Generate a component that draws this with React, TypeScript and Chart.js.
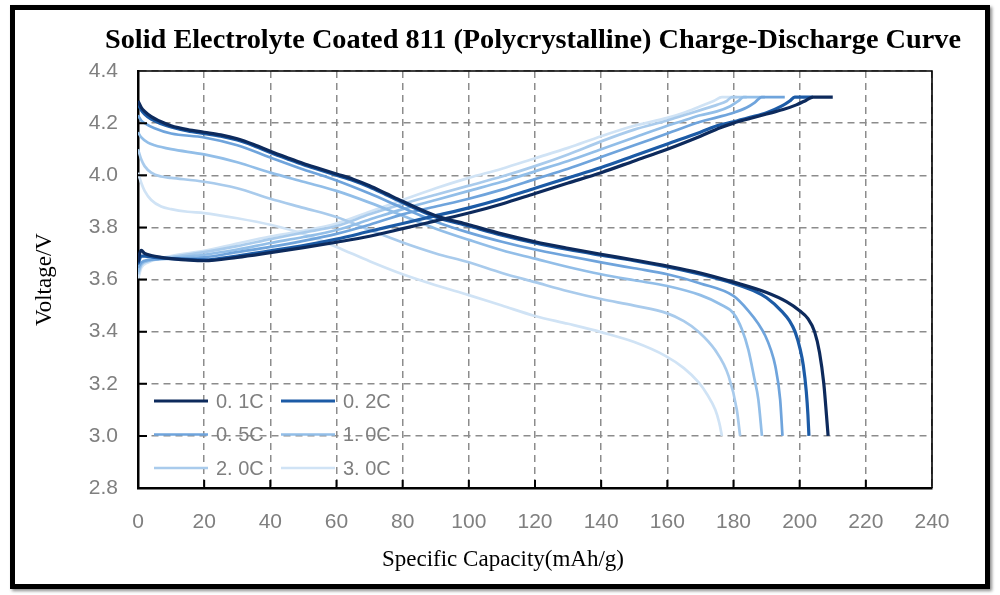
import { useEffect, useRef } from "react";
import { Chart, registerables, type ChartConfiguration, type Plugin } from "chart.js";

Chart.register(...registerables);

type Pt = [number, number];

const chartTitle = "Solid Electrolyte Coated 811 (Polycrystalline) Charge-Discharge Curve";
const xAxisTitle = "Specific Capacity(mAh/g)";
const yAxisTitle = "Voltage/V";

const rateLabels = ["0. 1C", "0. 2C", "0. 5C", "1. 0C", "2. 0C", "3. 0C"];
const rateColors = ["#0d2a5c", "#1c5ba6", "#6fa4dc", "#92bee8", "#a9cbec", "#d0e3f5"];
const rateWidths = [3.2, 3.2, 2.7, 2.7, 2.7, 2.7];

const capacityTicks = [0, 20, 40, 60, 80, 100, 120, 140, 160, 180, 200, 220, 240];
const voltageTicks = [2.8, 3.0, 3.2, 3.4, 3.6, 3.8, 4.0, 4.2, 4.4];

// discharge: [capacity mAh/g, voltage V]
const discharge01: Pt[] = [
  [0, 4.285], [1, 4.26], [2, 4.245], [4, 4.225], [7, 4.205], [10, 4.19], [15, 4.175], [20, 4.165],
  [25, 4.155], [30, 4.14], [35, 4.118], [40, 4.092], [45, 4.068], [50, 4.045], [55, 4.025],
  [60, 4.005], [65, 3.985], [70, 3.96], [75, 3.93], [80, 3.9], [90, 3.845], [100, 3.81], [110, 3.775],
  [120, 3.745], [130, 3.72], [140, 3.697], [150, 3.675], [160, 3.652], [170, 3.625], [180, 3.59],
  [190, 3.55], [196, 3.515], [200, 3.48], [202.5, 3.45], [204.5, 3.4], [206, 3.32], [207.3, 3.2],
  [208.1, 3.08], [208.6, 3.0]
];
const discharge02: Pt[] = [
  [0, 4.275], [1, 4.25], [2, 4.235], [4, 4.215], [7, 4.198], [10, 4.185], [15, 4.17], [20, 4.16],
  [25, 4.15], [30, 4.135], [35, 4.113], [40, 4.087], [45, 4.063], [50, 4.04], [55, 4.02], [60, 4.0],
  [65, 3.98], [70, 3.955], [75, 3.925], [80, 3.895], [90, 3.84], [100, 3.805], [110, 3.77],
  [120, 3.74], [130, 3.715], [140, 3.693], [150, 3.672], [160, 3.648], [170, 3.62], [180, 3.585],
  [186, 3.558], [190, 3.53], [194.6, 3.478], [197, 3.44], [198.6, 3.4], [200.2, 3.33], [201.1, 3.27],
  [202, 3.17], [202.5, 3.08], [202.8, 3.0]
];
const discharge05: Pt[] = [
  [0, 4.23], [1, 4.21], [2, 4.2], [5, 4.18], [10, 4.16], [20, 4.145], [30, 4.115], [40, 4.068],
  [50, 4.022], [60, 3.98], [70, 3.93], [80, 3.875], [90, 3.822], [100, 3.78], [110, 3.745],
  [120, 3.715], [130, 3.69], [140, 3.666], [150, 3.643], [160, 3.62], [170, 3.585], [180, 3.537],
  [184.5, 3.48], [187.5, 3.43], [189.6, 3.384], [191.3, 3.33], [192.6, 3.27], [194.1, 3.14],
  [194.8, 3.0]
];
const discharge10: Pt[] = [
  [0, 4.165], [1, 4.145], [3, 4.125], [5, 4.115], [10, 4.1], [20, 4.08], [30, 4.05], [40, 4.01],
  [50, 3.975], [60, 3.94], [70, 3.895], [80, 3.845], [90, 3.795], [100, 3.752], [110, 3.712],
  [120, 3.68], [130, 3.648], [140, 3.62], [150, 3.597], [160, 3.575], [170, 3.54], [176, 3.505],
  [180, 3.47], [182.5, 3.41], [184.5, 3.33], [186.3, 3.22], [187.5, 3.14], [188.6, 3.0]
];
const discharge20: Pt[] = [
  [0, 4.1], [1, 4.06], [2, 4.035], [4, 4.01], [7, 3.995], [10, 3.99], [20, 3.975], [30, 3.95],
  [40, 3.91], [50, 3.875], [60, 3.84], [70, 3.79], [80, 3.742], [90, 3.7], [100, 3.666], [110, 3.625],
  [120, 3.59], [130, 3.555], [140, 3.525], [150, 3.5], [160, 3.47], [165, 3.44], [169.4, 3.4],
  [174.4, 3.33], [178.5, 3.23], [181, 3.1], [182, 3.0]
];
const discharge30: Pt[] = [
  [0, 4.01], [1, 3.97], [2, 3.94], [4, 3.905], [7, 3.88], [10, 3.87], [15, 3.86], [20, 3.855],
  [30, 3.835], [40, 3.81], [50, 3.775], [60, 3.725], [70, 3.67], [80, 3.62], [90, 3.578], [100, 3.54],
  [110, 3.5], [120, 3.46], [130, 3.43], [140, 3.398], [150, 3.36], [159.4, 3.307], [165, 3.26],
  [169.4, 3.206], [172, 3.16], [174.5, 3.1], [175.7, 3.05], [176.5, 3.0]
];

// charge: [capacity mAh/g, voltage V]
const charge01: Pt[] = [
  [0, 3.665], [0.5, 3.7], [1, 3.712], [2, 3.7], [4, 3.692], [7, 3.685], [10, 3.68], [20, 3.672],
  [30, 3.685], [40, 3.703], [50, 3.722], [60, 3.743], [70, 3.766], [80, 3.795], [90, 3.825],
  [100, 3.855], [110, 3.89], [120, 3.93], [130, 3.97], [140, 4.01], [150, 4.055], [160, 4.1],
  [170, 4.15], [176, 4.182], [180, 4.2], [185, 4.218], [190, 4.235], [195, 4.252], [199, 4.27],
  [202, 4.288], [204, 4.3], [210, 4.3]
];
const charge02: Pt[] = [
  [0, 3.66], [1, 3.69], [2, 3.69], [5, 3.685], [10, 3.68], [20, 3.675], [30, 3.69], [40, 3.71],
  [50, 3.73], [60, 3.755], [70, 3.785], [80, 3.815], [90, 3.845], [100, 3.875], [110, 3.91],
  [120, 3.95], [130, 3.99], [140, 4.03], [150, 4.075], [160, 4.12], [170, 4.165], [175, 4.19],
  [180, 4.205], [185, 4.222], [190, 4.24], [194.5, 4.265], [197, 4.285], [198.5, 4.3], [204, 4.3]
];
const charge05: Pt[] = [
  [0, 3.645], [1, 3.665], [3, 3.675], [10, 3.68], [20, 3.685], [30, 3.705], [40, 3.725], [50, 3.748],
  [60, 3.775], [70, 3.81], [80, 3.85], [90, 3.88], [100, 3.91], [110, 3.945], [120, 3.985],
  [130, 4.025], [140, 4.07], [150, 4.115], [160, 4.16], [170, 4.205], [175, 4.222], [180, 4.24],
  [184, 4.26], [186.5, 4.28], [188.5, 4.3], [195.5, 4.3]
];
const charge10: Pt[] = [
  [0, 3.63], [1, 3.66], [3, 3.672], [10, 3.683], [20, 3.695], [30, 3.715], [40, 3.74], [50, 3.763],
  [60, 3.79], [70, 3.83], [80, 3.87], [90, 3.905], [100, 3.94], [110, 3.975], [120, 4.015],
  [130, 4.055], [140, 4.1], [150, 4.145], [160, 4.19], [165, 4.21], [170, 4.23], [175, 4.245],
  [179, 4.265], [181.5, 4.285], [183, 4.3], [189.5, 4.3]
];
const charge20: Pt[] = [
  [0, 3.62], [1, 3.655], [3, 3.67], [10, 3.686], [20, 3.705], [30, 3.728], [40, 3.755], [50, 3.78],
  [60, 3.805], [70, 3.85], [80, 3.89], [90, 3.925], [100, 3.96], [110, 3.995], [120, 4.035],
  [130, 4.08], [140, 4.13], [150, 4.175], [160, 4.21], [165, 4.23], [170, 4.25], [175, 4.27],
  [178, 4.285], [179.5, 4.3], [184, 4.3]
];
const charge30: Pt[] = [
  [0, 3.6], [1, 3.645], [3, 3.665], [10, 3.69], [20, 3.71], [30, 3.738], [40, 3.765], [50, 3.787],
  [60, 3.815], [70, 3.86], [80, 3.905], [90, 3.95], [100, 3.99], [110, 4.025], [120, 4.065],
  [130, 4.105], [140, 4.15], [150, 4.19], [160, 4.22], [165, 4.24], [170, 4.265], [174, 4.285],
  [176.5, 4.3], [181, 4.3]
];

const dischargeCurves = [discharge01, discharge02, discharge05, discharge10, discharge20, discharge30];
const chargeCurves = [charge01, charge02, charge05, charge10, charge20, charge30];

const SANS = "'Liberation Sans', Arial, sans-serif";
const SERIF = "'Liberation Serif', 'Times New Roman', serif";
const LABEL_GRAY = "#7f7f7f";

// plot box edges, inward tick marks, legend, title and x caption
const decorations: Plugin<"line"> = {
  id: "decorations",
  afterDraw(chart) {
    const { ctx, chartArea } = chart;
    const { left, right, top, bottom } = chartArea;
    const xScale = chart.scales.x;
    const yScale = chart.scales.y;
    ctx.save();

    ctx.strokeStyle = "#000";
    ctx.lineWidth = 1.6;
    ctx.beginPath();
    ctx.moveTo(left, top);
    ctx.lineTo(right, top);
    ctx.lineTo(right, bottom);
    ctx.stroke();

    ctx.lineWidth = 2;
    ctx.beginPath();
    capacityTicks.slice(1, -1).forEach((v) => {
      const px = xScale.getPixelForValue(v);
      ctx.moveTo(px, bottom);
      ctx.lineTo(px, bottom - 8);
    });
    voltageTicks.slice(1, -1).forEach((v) => {
      const py = yScale.getPixelForValue(v);
      ctx.moveTo(left, py);
      ctx.lineTo(left + 9, py);
    });
    ctx.stroke();

    ctx.font = `20px ${SANS}`;
    ctx.textBaseline = "middle";
    ctx.textAlign = "left";
    rateLabels.forEach((label, i) => {
      const col = i % 2;
      const row = Math.floor(i / 2);
      const x = left + 16 + col * 127;
      const y = bottom - 87 + row * 33.5;
      ctx.strokeStyle = rateColors[i];
      ctx.lineWidth = rateWidths[i];
      ctx.beginPath();
      ctx.moveTo(x, y);
      ctx.lineTo(x + 54, y);
      ctx.stroke();
      ctx.fillStyle = LABEL_GRAY;
      ctx.fillText(label, x + 62, y + 1);
    });

    ctx.fillStyle = "#000";
    ctx.textAlign = "center";
    ctx.font = `bold 28.3px ${SERIF}`;
    ctx.fillText(chartTitle, (left + right) / 2 - 2, 41);
    ctx.font = `23px ${SERIF}`;
    ctx.fillText(xAxisTitle, chart.width / 2 + 3, 560);
    ctx.restore();
  }
};

const toXY = (pts: Pt[]) => pts.map(([x, y]) => ({ x, y }));

function buildConfig(): ChartConfiguration<"line"> {
  const datasets = [
    ...dischargeCurves.map((pts, i) => ({
      label: rateLabels[i],
      data: toXY(pts),
      borderColor: rateColors[i],
      borderWidth: rateWidths[i],
      order: i,
      pointRadius: 0,
      cubicInterpolationMode: "monotone" as const
    })),
    ...chargeCurves.map((pts, i) => ({
      label: rateLabels[i] + " charge",
      data: toXY(pts),
      borderColor: rateColors[i],
      borderWidth: rateWidths[i],
      order: i,
      pointRadius: 0,
      cubicInterpolationMode: "monotone" as const
    }))
  ];

  return {
    type: "line",
    data: { datasets },
    options: {
      animation: false,
      responsive: false,
      layout: { padding: { left: 0, right: 68, top: 71, bottom: 0 } },
      plugins: {
        legend: { display: false },
        tooltip: { enabled: false },
        title: { display: false }
      },
      scales: {
        x: {
          type: "linear",
          min: 0,
          max: 240,
          afterBuildTicks: (scale) => {
            scale.ticks = capacityTicks.map((value) => ({ value }));
          },
          afterFit: (scale) => {
            scale.height = 107;
          },
          ticks: {
            color: LABEL_GRAY,
            font: { family: SANS, size: 21 },
            padding: 22,
            maxRotation: 0,
            autoSkip: false
          },
          grid: { color: "#8c8c8c", lineWidth: 1.5, drawTicks: false },
          border: { display: true, color: "#000", width: 2.5, dash: [7, 5] }
        },
        y: {
          type: "linear",
          min: 2.8,
          max: 4.4,
          afterBuildTicks: (scale) => {
            scale.ticks = voltageTicks.map((value) => ({ value }));
          },
          afterFit: (scale) => {
            scale.width = 138;
          },
          ticks: {
            color: LABEL_GRAY,
            font: { family: SANS, size: 21 },
            padding: 20,
            autoSkip: false,
            callback: (v) => Number(v).toFixed(1)
          },
          grid: { color: "#8c8c8c", lineWidth: 1.5, drawTicks: false },
          border: { display: true, color: "#000", width: 2.5, dash: [7, 5] },
          title: {
            display: true,
            text: yAxisTitle,
            color: "#000",
            font: { family: SERIF, size: 23 },
            padding: { top: 31, bottom: 0 }
          }
        }
      }
    },
    plugins: [decorations]
  };
}

function CurveChart() {
  const canvasRef = useRef<HTMLCanvasElement | null>(null);

  useEffect(() => {
    const canvas = canvasRef.current;
    if (!canvas) return;
    const chart = new Chart(canvas, buildConfig());
    return () => chart.destroy();
  }, []);

  return (
    <canvas
      ref={canvasRef}
      width={1000}
      height={595}
      style={{ position: "absolute", left: 0, top: 0, width: 1000, height: 595 }}
    />
  );
}

export default function App() {
  return (
    <div
      style={{
        position: "absolute",
        left: 0,
        top: 0,
        width: 1000,
        height: 595,
        background: "#fff",
        overflow: "hidden"
      }}
    >
      <div
        style={{
          position: "absolute",
          left: 10,
          top: 5,
          width: 980,
          height: 584,
          boxSizing: "border-box",
          border: "5px solid #000",
          boxShadow: "2px 2px 3px rgba(0,0,0,0.45)"
        }}
      />
      <CurveChart />
    </div>
  );
}
